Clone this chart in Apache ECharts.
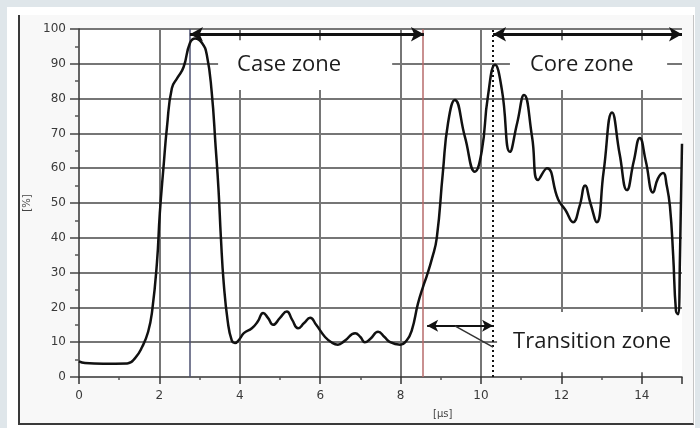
<!DOCTYPE html>
<html>
<head>
<meta charset="utf-8">
<script src="https://cdn.jsdelivr.net/npm/echarts@6/dist/echarts.min.js"></script>
<style>
  html, body { margin: 0; padding: 0; background: #dfe6ea; }
  #panel { position: absolute; left: 7px; top: 7px; width: 688px; height: 421px; background: #fff; }
  #frame { position: absolute; left: 18px; top: 15px; width: 673px; height: 408px; background: #f8f8f8;
           border-left: 2px solid #3a3a3a; border-bottom: 2px solid #3a3a3a; border-right: 1px solid #c4c4c4; }
  #chart { position: absolute; left: 0; top: 0; width: 700px; height: 428px; }
</style>
</head>
<body>
<div id="panel"></div>
<div id="frame"></div>
<div id="chart"></div>
<script>
// signal trace: time [µs] and amplitude [%]
var timeUs = [0, 0.15, 0.6, 1.2, 1.4, 1.57, 1.72, 1.82, 1.94, 2.01, 2.1, 2.19, 2.31, 2.45, 2.6, 2.76, 2.89, 3.06, 3.18,
  3.3, 3.4, 3.47, 3.53, 3.6, 3.7, 3.8, 3.88, 4.0, 4.1, 4.3, 4.45, 4.58, 4.7, 4.83, 5.0, 5.17, 5.3, 5.45, 5.6, 5.75,
  5.9, 6.12, 6.3, 6.44, 6.6, 6.87, 7.0, 7.11, 7.25, 7.44, 7.6, 7.74, 7.99, 8.15, 8.28, 8.43, 8.56, 8.65, 8.78, 8.9,
  9.05, 9.18, 9.35, 9.6, 9.85, 10.02, 10.17, 10.35, 10.52, 10.72, 10.9, 11.07, 11.27, 11.42, 11.64, 11.92, 12.1,
  12.29, 12.45, 12.59, 12.72, 12.88, 13.05, 13.26, 13.45, 13.63, 13.8, 13.95, 14.1, 14.28, 14.4, 14.53, 14.62, 14.7,
  14.78, 14.85, 14.9, 14.95, 15.0];
var amplitude = [4.5, 4.0, 3.8, 3.9, 5.5, 8.6, 13, 19, 33, 47, 60, 72, 83, 86, 89, 96, 97.3, 96, 92.5,
  82, 66, 54, 40, 27, 16, 10.5, 9.8, 11, 12.6, 14, 16, 18.4, 17, 15, 17, 18.8, 16.5, 14, 15.5, 17,
  15, 11.5, 9.8, 9.3, 10.3, 12.6, 11.5, 10, 11, 13, 11.5, 10, 9.3, 10.5, 13.5, 21, 26, 29, 34, 40,
  58.6, 73, 79.6, 69, 59, 65, 80.5, 89.7, 82.5, 64.7, 73, 81, 69, 56.6, 60, 51, 48,
  44.5, 49, 55, 50, 44.5, 59, 76, 64, 53.7, 62, 68.7, 62, 53, 57, 58.6, 55, 49,
  35, 19, 18, 35, 67];

// annotations (data coordinates)
var guideLines = [2.76, 8.56, 10.3];
var guideColors = ['#4c5070', '#b76b6b', '#111'];
var zoneNames = ['Case zone', 'Core zone', 'Transition zone'];
var zoneArrowFrom = [[2.76, 98.5], [10.3, 98.5], [8.66, 14.7]];
var zoneArrowTo = [[8.58, 98.5], [15.0, 98.5], [10.3, 14.7]];
var zoneBoxX = [[3.46, 7.79], [10.72, 14.63], [10.4, 15]];
var zoneBoxY = [[82.5, 96.8], [82.5, 96.8], [1.4, 18.7]];
var zoneLabelGap = [19, 20, 16];
var leaderFrom = [9.35, 14.7];
var leaderTo = [10.3, 8.6];

var chart = echarts.init(document.getElementById('chart'), null, { renderer: 'canvas' });

var trace = timeUs.map(function (t, i) { return [t, amplitude[i]]; });

var boxes = zoneNames.map(function (name, i) {
  return [
    { name: name, xAxis: zoneBoxX[i][0], yAxis: zoneBoxY[i][0], label: { distance: zoneLabelGap[i] } },
    { xAxis: zoneBoxX[i][1], yAxis: zoneBoxY[i][1] }
  ];
});

var arrows = zoneArrowFrom.map(function (from, i) {
  var small = i === 2;
  return [
    { coord: from, symbolSize: small ? [9, 11] : [11, 13] },
    { coord: zoneArrowTo[i], symbolSize: small ? [9, 11] : [11, 13],
      lineStyle: { width: small ? 2 : 3 } }
  ];
});

var guides = guideLines.map(function (x, i) {
  return {
    xAxis: x,
    lineStyle: {
      color: guideColors[i],
      width: i === 2 ? 2 : 1.5,
      type: i === 2 ? [2, 3] : 'solid'
    }
  };
});

var gridColor = '#767676';
var tickFont = { fontFamily: 'DejaVu Sans', fontSize: 12, color: '#3a3a3a' };

chart.setOption({
  animation: false,
  grid: { left: 79, right: 18, top: 29, bottom: 51, show: true, backgroundColor: '#fff', borderWidth: 0 },
  xAxis: {
    type: 'value',
    min: 0,
    max: 15,
    interval: 2,
    axisLine: { show: true, onZero: false, lineStyle: { color: '#333', width: 1.5 } },
    axisTick: { show: true, length: 7, lineStyle: { color: '#333', width: 1.5 } },
    minorTick: { show: true, splitNumber: 2, length: 3, lineStyle: { color: '#555', width: 1.5 } },
    axisLabel: Object.assign({ margin: 13, showMaxLabel: false,
      formatter: function (v) { return v === 15 ? '' : v; } }, tickFont),
    splitLine: { show: true, showMinLine: false, showMaxLine: false, lineStyle: { color: gridColor, width: 2 } }
  },
  yAxis: {
    type: 'value',
    min: 0,
    max: 100,
    interval: 10,
    name: '[%]',
    nameLocation: 'middle',
    nameRotate: 90,
    nameGap: 42,
    nameTextStyle: { fontFamily: 'DejaVu Sans', fontSize: 10, color: '#444' },
    axisLine: { show: true, lineStyle: { color: '#333', width: 1.5 } },
    axisTick: { show: true, length: 9, lineStyle: { color: '#444', width: 1.5 } },
    minorTick: { show: true, splitNumber: 2, length: 4, lineStyle: { color: '#555', width: 1.5 } },
    axisLabel: Object.assign({ margin: 13 }, tickFont),
    splitLine: { show: true, showMinLine: false, lineStyle: { color: gridColor, width: 2 } }
  },
  graphic: [{
    type: 'text',
    left: 433,
    top: 409,
    style: { text: '[µs]', fontFamily: 'DejaVu Sans', fontSize: 10, fill: '#444' }
  }],
  series: [
    {
      name: 'zone boxes',
      type: 'line',
      data: [],
      z: 1,
      silent: true,
      markArea: {
        silent: true,
        itemStyle: { color: '#fff', opacity: 1 },
        label: {
          show: true,
          position: 'insideLeft',
          fontFamily: 'Open Sans',
          fontSize: 22,
          color: '#1c1c1c'
        },
        data: boxes
      }
    },
    {
      name: 'guides',
      type: 'line',
      data: [],
      z: 3,
      silent: true,
      markLine: {
        silent: true,
        symbol: 'none',
        label: { show: false },
        data: guides
      }
    },
    {
      name: 'arrows',
      type: 'line',
      data: [],
      z: 6,
      silent: true,
      markLine: {
        silent: true,
        symbol: ['arrow', 'arrow'],
        label: { show: false },
        lineStyle: { color: '#111', type: 'solid', width: 3 },
        data: arrows.concat([[
          { coord: leaderFrom, symbol: 'none' },
          { coord: leaderTo, symbol: 'none', lineStyle: { width: 1.5, color: '#333' } }
        ]])
      }
    },
    {
      name: 'signal',
      type: 'line',
      data: trace,
      z: 5,
      smooth: 0.5,
      showSymbol: false,
      lineStyle: { color: '#111', width: 2.5 }
    }
  ]
});
</script>
</body>
</html>
